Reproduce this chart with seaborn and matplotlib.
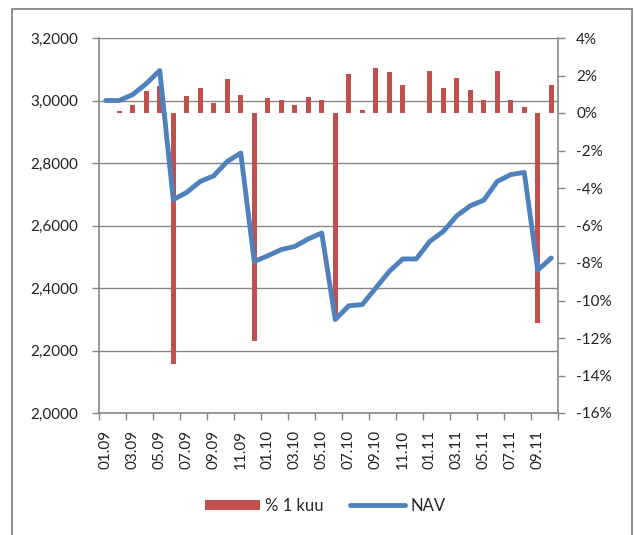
import numpy as np
import pandas as pd
import matplotlib
matplotlib.use("Agg")
import matplotlib.pyplot as plt
from matplotlib.patches import Rectangle, Patch
from matplotlib.lines import Line2D
from matplotlib.ticker import FuncFormatter, FixedLocator
import seaborn as sns

months = ["01.09", "02.09", "03.09", "04.09", "05.09", "06.09", "07.09", "08.09",
          "09.09", "10.09", "11.09", "12.09", "01.10", "02.10", "03.10", "04.10",
          "05.10", "06.10", "07.10", "08.10", "09.10", "10.10", "11.10", "12.10",
          "01.11", "02.11", "03.11", "04.11", "05.11", "06.11", "07.11", "08.11",
          "09.11", "10.11"]
pct_1m = [0.0, 0.1, 0.44, 1.15, 1.46, -13.37, 0.89, 1.31, 0.53, 1.81, 0.98, -12.18,
          0.78, 0.71, 0.43, 0.85, 0.71, -11.02, 2.1, 0.14, 2.42, 2.17, 1.49, 0.02,
          2.26, 1.33, 1.88, 1.24, 0.71, 2.26, 0.71, 0.32, -11.2, 1.49]
nav = [3.000, 3.000, 3.019, 3.054, 3.096, 2.683, 2.706, 2.741, 2.759, 2.805, 2.832,
       2.485, 2.503, 2.523, 2.533, 2.557, 2.576, 2.299, 2.343, 2.347, 2.400, 2.453,
       2.493, 2.493, 2.549, 2.581, 2.631, 2.663, 2.681, 2.741, 2.763, 2.770, 2.457,
       2.496]
left_ticks = [2.0, 2.2, 2.4, 2.6, 2.8, 3.0, 3.2]
right_ticks = [-16, -14, -12, -10, -8, -6, -4, -2, 0, 2, 4]

BAR = "#C0504D"
LINE = "#4F81BD"
GRAY = "#868686"
FONT = "Lato"

sns.set_theme(style="white")
plt.rcParams["font.family"] = [FONT, "DejaVu Sans"]

df = pd.DataFrame({"idx": np.arange(len(months)), "month": months,
                   "pct": pct_1m, "nav": nav})

fig = plt.figure(figsize=(6.35, 5.35), dpi=100)
fig.patch.set_facecolor("white")

L, R, T, B = 99, 558, 38, 413
W, H = 635, 535
ax = fig.add_axes([L / W, 1 - B / H, (R - L) / W, (B - T) / H])
ax_bar = ax.twinx()
ax_line = ax.twinx()

# base axis: NAV scale, grid
ax.set_ylim(2.0, 3.2)
ax.set_yticks(left_ticks)
ax.yaxis.set_major_formatter(FuncFormatter(lambda v, p: f"{v:.4f}".replace(".", ",")))
ax.grid(axis="y", color=GRAY, linewidth=1.0)
ax.grid(axis="x", visible=False)
ax.tick_params(axis="y", which="major", direction="out", length=5, width=1,
               color=GRAY, pad=10, labelsize=11, labelcolor="#222222", left=True)

# bars on right axis
sns.barplot(data=df, x="idx", y="pct", ax=ax_bar, color=BAR, width=0.37,
            saturation=1, linewidth=0, errorbar=None)
ax_bar.set_ylim(-16, 4)
ax_bar.set_yticks(right_ticks)
ax_bar.yaxis.set_major_formatter(FuncFormatter(lambda v, p: f"{int(v)}%"))
ax_bar.tick_params(axis="y", which="major", direction="out", length=5, width=1,
                   color=GRAY, pad=8, labelsize=11, labelcolor="#222222", right=True)
ax_bar.set_ylabel("")
ax_bar.set_xlabel("")

# line on top
sns.lineplot(data=df, x="idx", y="nav", ax=ax_line, color=LINE, linewidth=3.5,
             solid_joinstyle="round", solid_capstyle="round")
ax_line.set_ylim(2.0, 3.2)
ax_line.yaxis.set_visible(False)
ax_line.set_xlabel("")
ax_line.set_ylabel("")

for a in (ax, ax_bar, ax_line):
    a.set_xlim(-0.5, len(months) - 0.5)
    for s in a.spines.values():
        s.set_visible(False)

ax.spines["left"].set_visible(True)
ax.spines["bottom"].set_visible(True)
ax_bar.spines["right"].set_visible(True)
for s in (ax.spines["left"], ax.spines["bottom"], ax_bar.spines["right"]):
    s.set_color(GRAY)
    s.set_linewidth(1.2)

# x ticks: labels every 2 months, tick marks at boundaries
ax.set_xticks(np.arange(0, len(months), 2))
ax.set_xticklabels(months[::2], rotation=90, fontsize=11, color="#222222")
ax.xaxis.set_minor_locator(FixedLocator(np.arange(-0.5, len(months), 2)))
ax.tick_params(axis="x", which="major", length=0, pad=12)
ax.tick_params(axis="x", which="minor", direction="out", length=5, width=1,
               color=GRAY, bottom=True)
ax_bar.tick_params(axis="x", which="both", bottom=False, labelbottom=False)
ax_line.tick_params(axis="x", which="both", bottom=False, labelbottom=False)
ax.set_xlabel("")
ax.set_ylabel("")

# legend
handles = [Patch(facecolor=BAR, edgecolor="none"),
           Line2D([0], [0], color=LINE, linewidth=3.5, solid_capstyle="round")]
fig.legend(handles, ["% 1 kuu", "NAV"], loc="center", bbox_to_anchor=(0.512, 1 - 506 / H),
           ncol=2, frameon=False, fontsize=12, handlelength=3.3, handleheight=0.6,
           columnspacing=1.6, handletextpad=0.3)

# outer chart frame
fig.patches.append(Rectangle((12 / W, -0.1), (632 - 12) / W, 1 - 9 / H + 0.1,
                             transform=fig.transFigure, fill=False,
                             edgecolor=GRAY, linewidth=1.3))

fig.savefig("out.png", dpi=100)
